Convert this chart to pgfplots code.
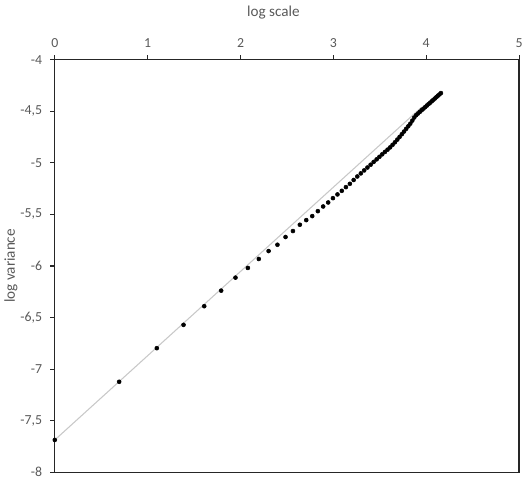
\documentclass[border=0pt]{standalone}
\usepackage{pgfplots}
\pgfplotsset{compat=1.18}
\usepackage{fontspec}
\setmainfont{Carlito}
\definecolor{txtgray}{HTML}{595959}
\definecolor{fitgray}{HTML}{C8C8C8}

% log variance against log scale, scales 1..64
\pgfplotstableread{
x y
0.0000 -7.687
0.6931 -7.123
1.0986 -6.797
1.3863 -6.571
1.6094 -6.390
1.7918 -6.239
1.9459 -6.113
2.0794 -6.019
2.1972 -5.932
2.3026 -5.855
2.3979 -5.794
2.4849 -5.719
2.5649 -5.661
2.6391 -5.600
2.7081 -5.555
2.7726 -5.516
2.8332 -5.468
2.8904 -5.423
2.9444 -5.384
2.9957 -5.342
3.0445 -5.306
3.0910 -5.271
3.1355 -5.235
3.1781 -5.203
3.2189 -5.166
3.2581 -5.132
3.2958 -5.102
3.3322 -5.073
3.3673 -5.045
3.4012 -5.018
3.4340 -4.991
3.4657 -4.966
3.4965 -4.941
3.5264 -4.917
3.5553 -4.894
3.5835 -4.872
3.6109 -4.850
3.6376 -4.825
3.6636 -4.800
3.6889 -4.774
3.7136 -4.748
3.7377 -4.722
3.7612 -4.696
3.7842 -4.670
3.8067 -4.645
3.8286 -4.620
3.8501 -4.590
3.8712 -4.560
3.8918 -4.537
3.9120 -4.521
3.9318 -4.505
3.9512 -4.489
3.9703 -4.474
3.9890 -4.459
4.0073 -4.444
4.0254 -4.430
4.0431 -4.416
4.0604 -4.402
4.0775 -4.388
4.0943 -4.375
4.1109 -4.361
4.1271 -4.348
4.1431 -4.336
4.1589 -4.323
}\logvar

\begin{document}
\begin{tikzpicture}
\begin{axis}[
    scale only axis, width=349.5pt, height=310.5pt,
    xmin=0, xmax=5, ymin=-8, ymax=-4,
    xtick={0,1,2,3,4,5}, ytick={-8,-7.5,...,-4},
    xtick pos=upper, xticklabel pos=upper, ytick pos=lower,
    tick align=outside, major tick length=3.5pt,
    axis line style={black!85, line width=1pt},
    tick style={black!85, line width=0.8pt},
    /pgf/number format/use comma,
    /pgf/number format/assume math mode=true,
    ticklabel style={font=\fontsize{10.4}{12}\selectfont, text=txtgray},
    xticklabel style={yshift=2.5pt},
    yticklabel style={xshift=-2.5pt},
    xlabel={log scale}, ylabel={log variance},
    label style={font=\fontsize{11.4}{13}\selectfont, text=txtgray},
    xlabel style={at={(axis description cs:0.471,1.115)}, anchor=center},
    ylabel style={at={(axis description cs:-0.0944,0.5)}, anchor=center},
    clip=false,
]
\addplot[fitgray, line width=0.8pt] coordinates {(0,-7.687) (3.95,-4.46)};
\addplot[only marks, mark=*, mark size=1.5pt, black] table {\logvar};
\end{axis}
\path (current axis.south west) ++(-39.75pt,-6.75pt);
\path (current axis.north east) ++(8.25pt,45pt);
\end{tikzpicture}
\end{document}
